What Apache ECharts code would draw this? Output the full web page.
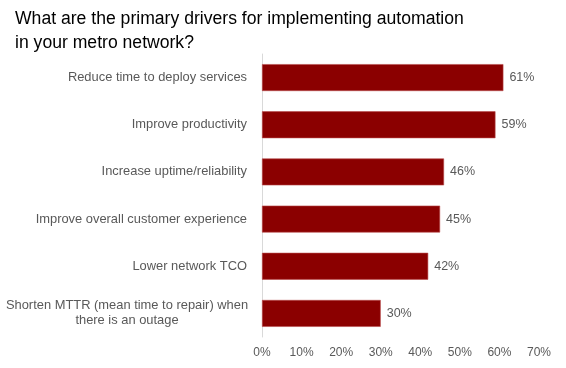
<!DOCTYPE html>
<html><head><meta charset="utf-8">
<script src="https://cdn.jsdelivr.net/npm/echarts@6/dist/echarts.min.js"></script>
<style>html,body{margin:0;padding:0;background:#fff}#c{width:566px;height:368px}</style>
</head><body><div id="c"></div>
<script>
const categories = [
  "Reduce time to deploy services",
  "Improve productivity",
  "Increase uptime/reliability",
  "Improve overall customer experience",
  "Lower network TCO",
  "Shorten MTTR (mean time to repair) when\nthere is an outage"
];
const values = [61, 59, 46, 45, 42, 30];
const tickMax = 70;
const titleText = "What are the primary drivers for implementing automation\nin your metro network?";

const chart = echarts.init(document.getElementById('c'));
chart.setOption({
  animation: false,
  title: {
    text: titleText, left: 15, top: 7, padding: 0,
    textStyle: {fontFamily: 'Liberation Sans', fontSize: 17.6, fontWeight: 'normal', color: '#000', lineHeight: 24}
  },
  grid: {left: 262, right: 27, top: 54, bottom: 31, containLabel: false},
  xAxis: {
    type: 'value', min: 0, max: tickMax, interval: 10,
    axisLabel: {formatter: '{value}%', color: '#595959', fontFamily: 'Liberation Sans', fontSize: 12, margin: 10},
    splitLine: {show: false}, axisLine: {show: false}, axisTick: {show: false}
  },
  yAxis: {
    type: 'category', inverse: true, data: categories,
    axisLine: {show: true, lineStyle: {color: '#d9d9d9'}},
    axisTick: {show: false},
    axisLabel: {
      color: '#595959', fontFamily: 'Liberation Sans', fontSize: 12.9, margin: 15, lineHeight: 15,
      formatter: function (v) {
        if (v.indexOf('\n') >= 0) {
          return v.split('\n').map(s => '{w|' + s + '}').join('\n');
        }
        return v;
      },
      rich: {w: {width: 240, align: 'center', color: '#595959', fontFamily: 'Liberation Sans', fontSize: 12.9, lineHeight: 15}}
    }
  },
  series: [{
    type: 'bar', data: values, barWidth: '57%',
    itemStyle: {color: '#8b0000', borderColor: '#b84a4a', borderWidth: 0.6},
    label: {show: true, position: 'right', distance: 6, formatter: '{c}%', color: '#595959', fontFamily: 'Liberation Sans', fontSize: 12.5, fontWeight: 'normal'}
  }]
});
</script></body></html>
